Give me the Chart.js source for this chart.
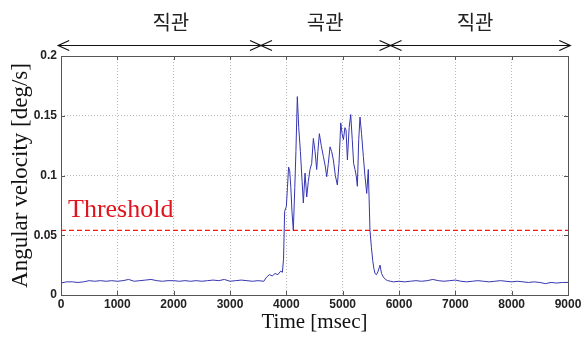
<!DOCTYPE html>
<html><head><meta charset="utf-8">
<script src="https://cdn.jsdelivr.net/npm/chart.js@4"></script>
<style>html,body{margin:0;padding:0;background:#fff}canvas{display:block}</style>
</head><body>
<canvas id="c" width="585" height="338"></canvas>
<script>
const times = [0,100,200,300,400,500,600,700,800,900,1000,1100,1200,1300,1400,1500,1600,1700,1800,1900,2000,2100,2200,2300,2400,2500,2600,2700,2800,2900,3000,3100,3200,3300,3400,3500,
3600,3650,3700,3750,3800,3850,3900,3930,3950,3970,4000,4020,4040,4060,4080,4100,4124,4150,4170,4195,4220,4250,4280,4302,4332,4362,4390,4420,4450,4480,4510,4539,4560,4586,4620,4657,4690,4717,4745,4776,4805,4835,4870,4906,4935,4966,4990,5013,5040,5060,5084,5115,5143,5170,5195,5219,5240,5261,5285,5308,5335,5367,5395,5427,5455,5485,5510,5533,5555,5574,5600,5630,5663,5690,5722,5760,5800,5850,5900,
6000,6100,6200,6300,6400,6500,6600,6700,6800,6900,7000,7100,7200,7300,7400,7500,7600,7700,7800,7900,8000,8100,8200,8300,8400,8500,8600,8700,8800,8900,9000];
const velocity = [0.010,0.011,0.011,0.0105,0.011,0.012,0.0115,0.012,0.0115,0.012,0.0115,0.012,0.013,0.0115,0.012,0.0125,0.013,0.012,0.0115,0.012,0.012,0.0115,0.012,0.0115,0.012,0.0115,0.012,0.0125,0.012,0.013,0.0115,0.012,0.0125,0.012,0.0115,0.012,
0.0115,0.015,0.017,0.016,0.018,0.017,0.020,0.019,0.030,0.070,0.074,0.090,0.107,0.104,0.090,0.070,0.054,0.090,0.120,0.166,0.140,0.120,0.095,0.077,0.102,0.082,0.095,0.105,0.110,0.131,0.120,0.105,0.120,0.135,0.125,0.116,0.108,0.099,0.110,0.124,0.120,0.113,0.100,0.092,0.110,0.144,0.135,0.130,0.140,0.138,0.113,0.140,0.151,0.130,0.110,0.105,0.100,0.091,0.130,0.149,0.135,0.116,0.100,0.085,0.105,0.054,0.040,0.029,0.022,0.018,0.017,0.020,0.025,0.018,0.015,0.013,0.012,0.0115,0.011,
0.0115,0.011,0.0115,0.012,0.0115,0.012,0.013,0.012,0.0115,0.012,0.0125,0.0115,0.011,0.0115,0.012,0.0115,0.011,0.0115,0.012,0.0115,0.011,0.0115,0.011,0.0105,0.011,0.0105,0.0095,0.0105,0.010,0.0105,0.0105];
const thresholdValue = 0.054;
const xTicks = [0,1000,2000,3000,4000,5000,6000,7000,8000,9000];
const xTickLabels = ['0','1000','2000','3000','4000','5000','6000','7000','8000','9000'];
const yTicks = [0,0.05,0.1,0.15,0.2];
const yTickLabels = ['0','0.05','0.1','0.15','0.2'];
const regionLabels = ['직관','곡관','직관'];
const regionLabelAt = [1950,4690,7350];
const regionStarts = [-50,3550,5850];
const regionEnds = [3550,5850,9040];

const overlay = {
  id:'overlay',
  afterDraw(chart){
    const {ctx, chartArea:a, scales:{x,y}} = chart;
    ctx.save();
    ctx.strokeStyle='#555'; ctx.lineWidth=1;
    ctx.beginPath();
    xTicks.forEach(v=>{const px=Math.round(x.getPixelForValue(v))+0.5;
      ctx.moveTo(px,a.bottom);ctx.lineTo(px,a.bottom-4);ctx.moveTo(px,a.top);ctx.lineTo(px,a.top+4);});
    yTicks.forEach(v=>{const py=Math.round(y.getPixelForValue(v))+0.5;
      ctx.moveTo(a.left,py);ctx.lineTo(a.left+4,py);ctx.moveTo(a.right,py);ctx.lineTo(a.right-4,py);});
    ctx.stroke();
    ctx.strokeStyle='#555';
    ctx.strokeRect(Math.round(a.left)+0.5,Math.round(a.top)+0.5,Math.round(a.right-a.left),Math.round(a.bottom-a.top));
    ctx.fillStyle='#e0141e';
    ctx.font='26px "Liberation Serif", "Times New Roman", serif';
    ctx.textAlign='left'; ctx.textBaseline='alphabetic';
    ctx.fillText('Threshold', a.left+7, y.getPixelForValue(thresholdValue)-13);
    const ay = a.top-10.5;
    ctx.strokeStyle='#111'; ctx.lineWidth=1.2;
    regionLabels.forEach((lab,i)=>{
      const x0=x.getPixelForValue(regionStarts[i]), x1=x.getPixelForValue(regionEnds[i]);
      ctx.beginPath();
      ctx.moveTo(x0,ay);ctx.lineTo(x1,ay);
      ctx.moveTo(x0+11,ay-5);ctx.lineTo(x0,ay);ctx.lineTo(x0+11,ay+5);
      ctx.moveTo(x1-11,ay-5);ctx.lineTo(x1,ay);ctx.lineTo(x1-11,ay+5);
      ctx.stroke();
      ctx.fillStyle='#222';
      ctx.font='20px "Noto Sans CJK KR", sans-serif';
      ctx.textAlign='center'; ctx.textBaseline='middle';
      ctx.fillText(lab,x.getPixelForValue(regionLabelAt[i]),22);
    });
    ctx.restore();
  }
};

new Chart(document.getElementById('c'),{
  type:'line',
  data:{datasets:[
    {data:times.map((t,i)=>({x:t,y:velocity[i]})),borderColor:'#3535b0',borderWidth:1,pointRadius:0,tension:0},
    {data:[{x:xTicks[0],y:thresholdValue},{x:xTicks[xTicks.length-1],y:thresholdValue}],borderColor:'#f01a1a',borderWidth:1.3,borderDash:[5,3],pointRadius:0}
  ]},
  options:{
    responsive:false,animation:false,
    layout:{padding:{top:56,right:17,bottom:0,left:0}},
    plugins:{legend:{display:false},tooltip:{enabled:false}},
    scales:{
      x:{type:'linear',min:0,max:9000,
        afterBuildTicks(s){s.ticks=xTicks.map(v=>({value:v}));},
        afterFit(s){s.height=43;},
        grid:{color:'#b8b8b8',drawTicks:false},
        border:{display:false,dash:[1,2]},
        ticks:{padding:2,color:'#222',font:{family:'"Liberation Sans", Arial, sans-serif',size:12,weight:'bold'},maxRotation:0,
          callback(v){const i=xTicks.indexOf(v);return i>=0?xTickLabels[i]:'';}},
        title:{display:true,text:'Time [msec]',color:'#111',font:{family:'"Liberation Serif", "Times New Roman", serif',size:21},padding:{top:0,bottom:3}}
      },
      y:{min:0,max:0.2,
        afterBuildTicks(s){s.ticks=yTicks.map(v=>({value:v}));},
        afterFit(s){s.width=61;},
        grid:{color:'#b8b8b8',drawTicks:false},
        border:{display:false,dash:[1,2]},
        ticks:{padding:4,color:'#222',font:{family:'"Liberation Sans", Arial, sans-serif',size:12,weight:'bold'},
          callback(v){const i=yTicks.indexOf(v);return i>=0?yTickLabels[i]:'';}},
        title:{display:true,text:'Angular velocity [deg/s]',color:'#111',font:{family:'"Liberation Serif", "Times New Roman", serif',size:23},padding:{top:7,bottom:0}}
      }
    }
  },
  plugins:[overlay]
});
</script>
</body></html>
